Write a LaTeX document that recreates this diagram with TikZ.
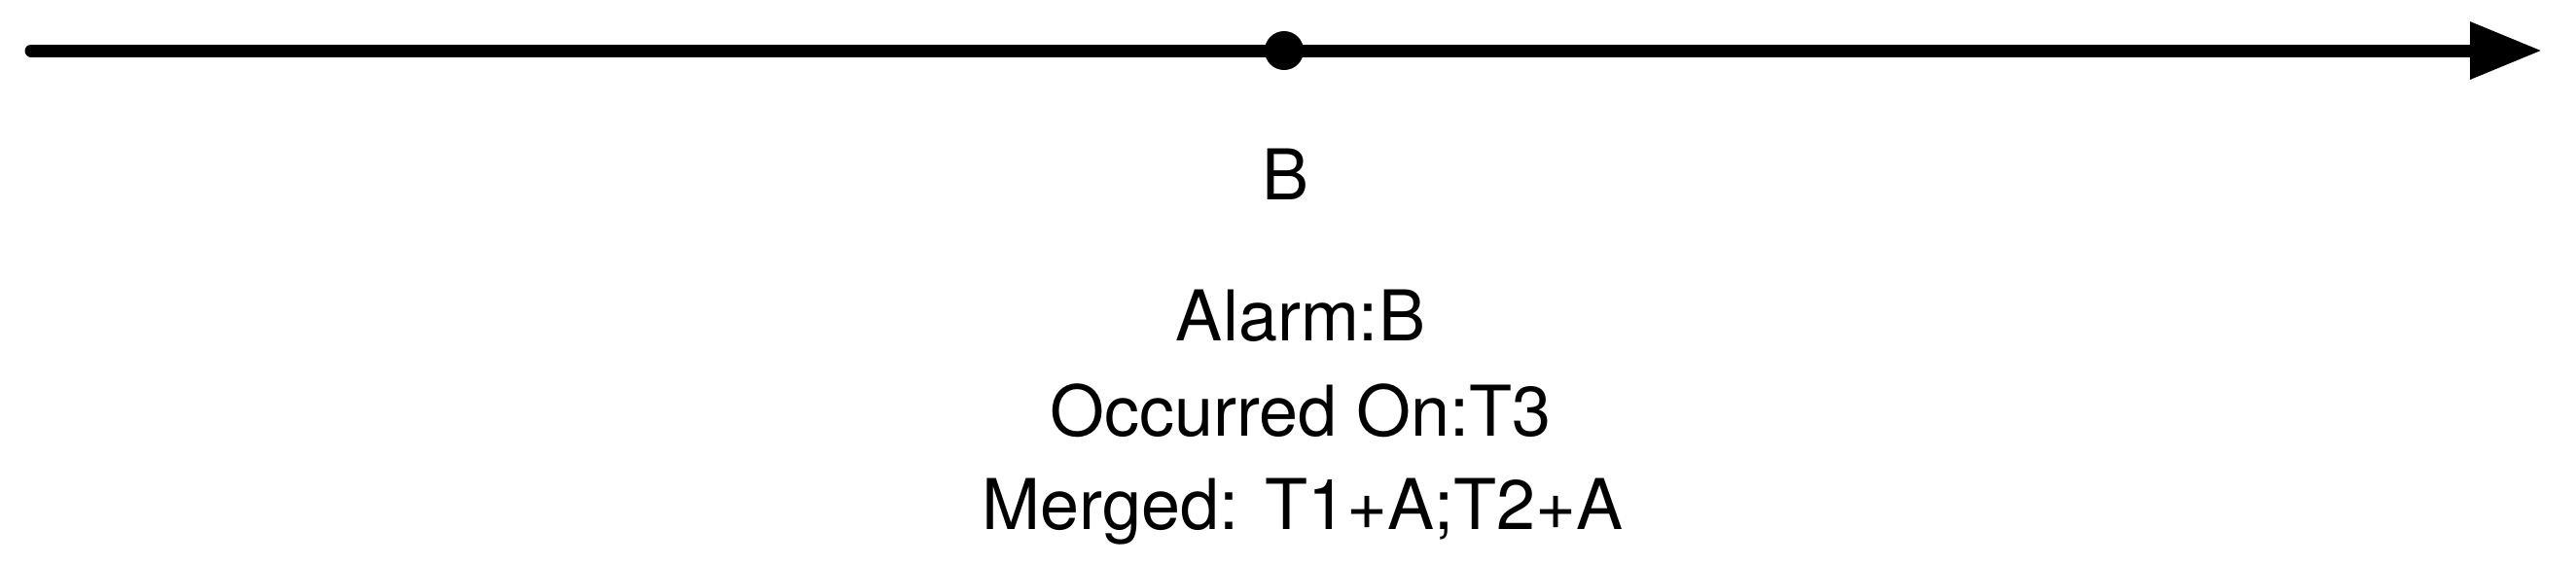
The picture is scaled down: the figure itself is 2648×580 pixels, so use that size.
\documentclass[tikz,border=0pt]{standalone}
\usepackage{fontspec}
\setmainfont{TeX Gyre Heros}
\usetikzlibrary{arrows.meta}

\begin{document}
\begin{tikzpicture}[x=0.25pt,y=-0.25pt,
    lbl/.style={anchor=base,inner sep=0pt,font=\fontsize{18}{22}\selectfont}]
        \useasboundingbox (0,0) rectangle (2648,580);

        \coordinate (start) at (32,52);
        \coordinate (end) at (2613,52);
        \draw[line width=3.25pt,line cap=round,-{Triangle[length=18.5pt,width=14pt]}] (start) to (end);
        \node[circle,fill,inner sep=0pt,minimum size=10pt] (dotB) at (1320,52) {};

        \node[lbl] (nameB) at (1322,205) {B};
        \node[lbl] (alarm) at (1337,350) {Alarm:B};
        \node[lbl] (occurred) at (1337,448) {Occurred On:T3};
        \node[lbl] (merged) at (1339,544) {Merged: T1+A;T2+A};

      \end{tikzpicture}
\end{document}
